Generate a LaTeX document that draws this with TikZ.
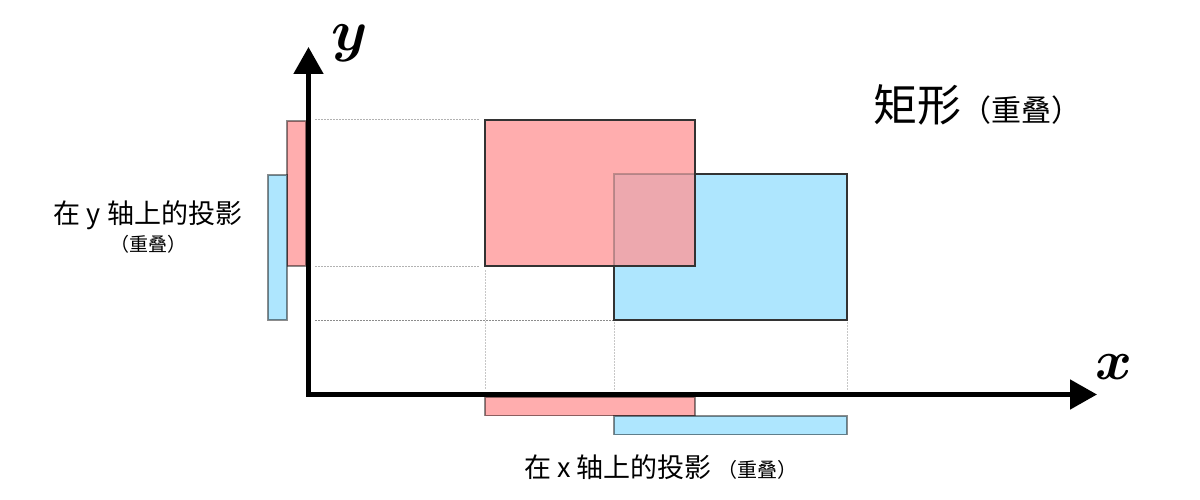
\documentclass[tikz,border=0pt]{standalone}
\usepackage{graphicx}
\usepackage{bm}
\usepackage{fontspec}
\newfontfamily\cjk{Noto Sans CJK SC}
\usetikzlibrary{arrows.meta}
\definecolor{redfill}{HTML}{FFADAE}
\definecolor{bluefill}{HTML}{AEE6FE}
\definecolor{overfill}{HTML}{EDA8AE}
\definecolor{edgec}{HTML}{333333}
\tikzset{
  rectbox/.style={line width=1.3pt, draw=edgec},
  projbar/.style={line width=1.2pt, draw=black, draw opacity=0.45},
  guide/.style={line width=1pt, draw=#1, dash pattern=on 1.5pt off 1.5pt},
  axis/.style={line width=5pt, line join=miter, {Triangle[length=27pt,width=29pt]}-{Triangle[length=27pt,width=29pt]}},
  lab/.style={inner sep=0pt, font=\cjk},
  axlab/.style={inner sep=0pt}
}
\begin{document}
\begin{tikzpicture}[x=1pt,y=-1pt]
\useasboundingbox (0,0) rectangle (1200,500);
% guides
\draw[guide=black!30] (315,120) -- (480,120);
\draw[guide=black!30] (315,266) -- (480,266);
\draw[guide=black!45] (315,320) -- (614,320);
\draw[guide=black!22] (485,270) -- (485,390);
\draw[guide=black!22] (614,322) -- (614,390);
\draw[guide=black!22] (847,322) -- (847,390);
% rectangles
\coordinate (rA) at (485,120); \coordinate (rB) at (695,266);
\coordinate (bA) at (614,174); \coordinate (bB) at (847,320);
\fill[bluefill] (bA) rectangle (bB);
\draw[rectbox] (bA) rectangle (bB);
\fill[redfill] (rA) rectangle (rB);
\fill[overfill] (614,174) rectangle (695,266);
\draw[line width=1.3pt, draw=edgec, draw opacity=0.3] (695,174) -- (614,174) -- (614,266);
\draw[rectbox] (rA) rectangle (rB);
% y projections
\filldraw[fill=redfill, projbar] (287,121) rectangle (306,266);
\filldraw[fill=bluefill, projbar] (268,175) rectangle (287,320);
% x projections
\filldraw[fill=redfill, projbar] (485,397) rectangle (695,415.5);
\filldraw[fill=bluefill, projbar] (614,416) rectangle (847,434.5);
% axes
\coordinate (xt) at (1097,394.5);
\coordinate (o) at (308.5,394.5);
\coordinate (yt) at (308.5,47);
\draw[axis] (xt) -- (o) -- (yt);
% axis labels
\node[axlab] (ylab) at (349.5,43) {\scalebox{5.8}{$\bm{y}$}};
\node[axlab] (xlab) at (1114,367.5) {\scalebox{5.6}{$\bm{x}$}};
% texts
\node[lab, anchor=west] (title) at (873,105) {\fontsize{44}{48}\selectfont 矩形\fontsize{30}{34}\selectfont（重叠）};
\node[lab] (ylab1) at (148,215) {\fontsize{27}{30}\selectfont 在 y 轴上的投影};
\node[lab] (ylab2) at (148,244) {\fontsize{19}{22}\selectfont（重叠）};
\node[lab, anchor=west] (xlab1) at (524,467) {\fontsize{27}{30}\selectfont 在 x 轴上的投影\hspace{6pt}\fontsize{20}{22}\selectfont（重叠）};
\end{tikzpicture}
\end{document}
